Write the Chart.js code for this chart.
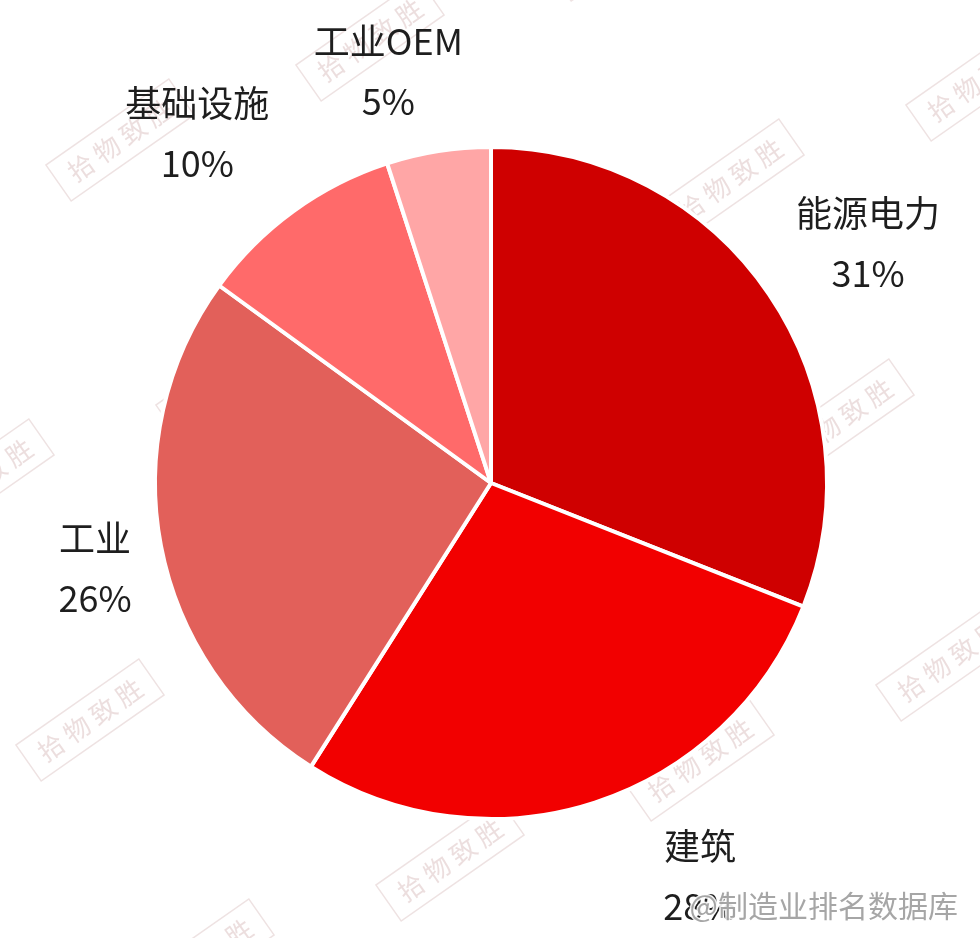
<!DOCTYPE html>
<html>
<head>
<meta charset="utf-8">
<script src="https://cdn.jsdelivr.net/npm/chart.js@4.4.0/dist/chart.umd.min.js"></script>
<style>
  html, body { margin: 0; padding: 0; background: #fff; }
  #wrap { width: 980px; height: 938px; position: relative; }
</style>
</head>
<body>
<div id="wrap"><canvas id="myChart" width="980" height="938"></canvas></div>
<script>
var labels = ['能源电力', '建筑', '工业', '基础设施', '工业OEM'];
var shares = [31, 28, 26, 10, 5];
var colors = ['#CF0000', '#F20000', '#E2605A', '#FF6A6A', '#FFA6A6'];

// label placement: extra distance beyond the pie edge and a small angle nudge (degrees)
var labelGap = [111, 109, 69, 121, 88];
var labelNudge = [1.7, -10, -1.3, -4, -5];

var FONT = '"Noto Sans CJK SC", "Noto Sans", sans-serif';

var watermark = {
  id: 'watermark',
  beforeDraw: function(chart) {
    var ctx = chart.ctx;
    ctx.save();
    ctx.fillStyle = '#fff';
    ctx.fillRect(0, 0, chart.width, chart.height);
    ctx.strokeStyle = 'rgba(200,160,160,0.3)';
    ctx.fillStyle = 'rgba(200,160,160,0.35)';
    ctx.lineWidth = 1.5;
    ctx.font = '26px ' + FONT;
    ctx.textAlign = 'center';
    ctx.textBaseline = 'middle';
    for (var row = -1; row < 6; row++) {
      for (var col = -1; col < 6; col++) {
        var x = 120 + col * 250 + row * 110;
        var y = 140 + row * 240 - col * 100;
        if (x < -100 || x > 1080 || y < -100 || y > 1040) continue;
        ctx.save();
        ctx.translate(x, y);
        ctx.rotate(-35 * Math.PI / 180);
        ctx.strokeRect(-75, -22, 150, 44);
        ctx.fillText('拾 物 致 胜', 0, 0);
        ctx.restore();
      }
    }
    ctx.restore();
  },
  afterDraw: function(chart) {
    var ctx = chart.ctx;
    ctx.save();
    ctx.font = '30px ' + FONT;
    ctx.textAlign = 'right';
    ctx.textBaseline = 'middle';
    ctx.lineWidth = 3;
    ctx.strokeStyle = 'rgba(255,255,255,0.9)';
    ctx.strokeText('@制造业排名数据库', 958, 906);
    ctx.fillStyle = 'rgba(150,150,150,0.85)';
    ctx.fillText('@制造业排名数据库', 958, 906);
    ctx.restore();
  }
};

var outsideLabels = {
  id: 'outsideLabels',
  afterDatasetsDraw: function(chart) {
    var ctx = chart.ctx;
    var meta = chart.getDatasetMeta(0);
    ctx.save();
    ctx.font = '36px ' + FONT;
    ctx.fillStyle = '#1e1e1e';
    ctx.textAlign = 'center';
    ctx.textBaseline = 'middle';
    meta.data.forEach(function(arc, i) {
      var p = arc.getProps(['x', 'y', 'startAngle', 'endAngle', 'outerRadius'], true);
      var mid = (p.startAngle + p.endAngle) / 2 + labelNudge[i] * Math.PI / 180;
      var r = p.outerRadius + labelGap[i];
      var cx = p.x + Math.cos(mid) * r;
      var cy = p.y + Math.sin(mid) * r;
      ctx.fillText(labels[i], cx, cy - 30);
      ctx.fillText(shares[i] + '%', cx, cy + 30);
    });
    ctx.restore();
  }
};

var ctx = document.getElementById('myChart').getContext('2d');
var myChart = new Chart(ctx, {
  type: 'pie',
  data: {
    labels: labels,
    datasets: [{
      data: shares,
      backgroundColor: colors,
      borderColor: '#ffffff',
      borderWidth: 4
    }]
  },
  options: {
    responsive: false,
    animation: false,
    layout: { padding: { left: 153, right: 151, top: 145, bottom: 117 } },
    plugins: {
      legend: { display: false },
      tooltip: { enabled: false }
    }
  },
  plugins: [watermark, outsideLabels]
});
</script>
</body>
</html>
